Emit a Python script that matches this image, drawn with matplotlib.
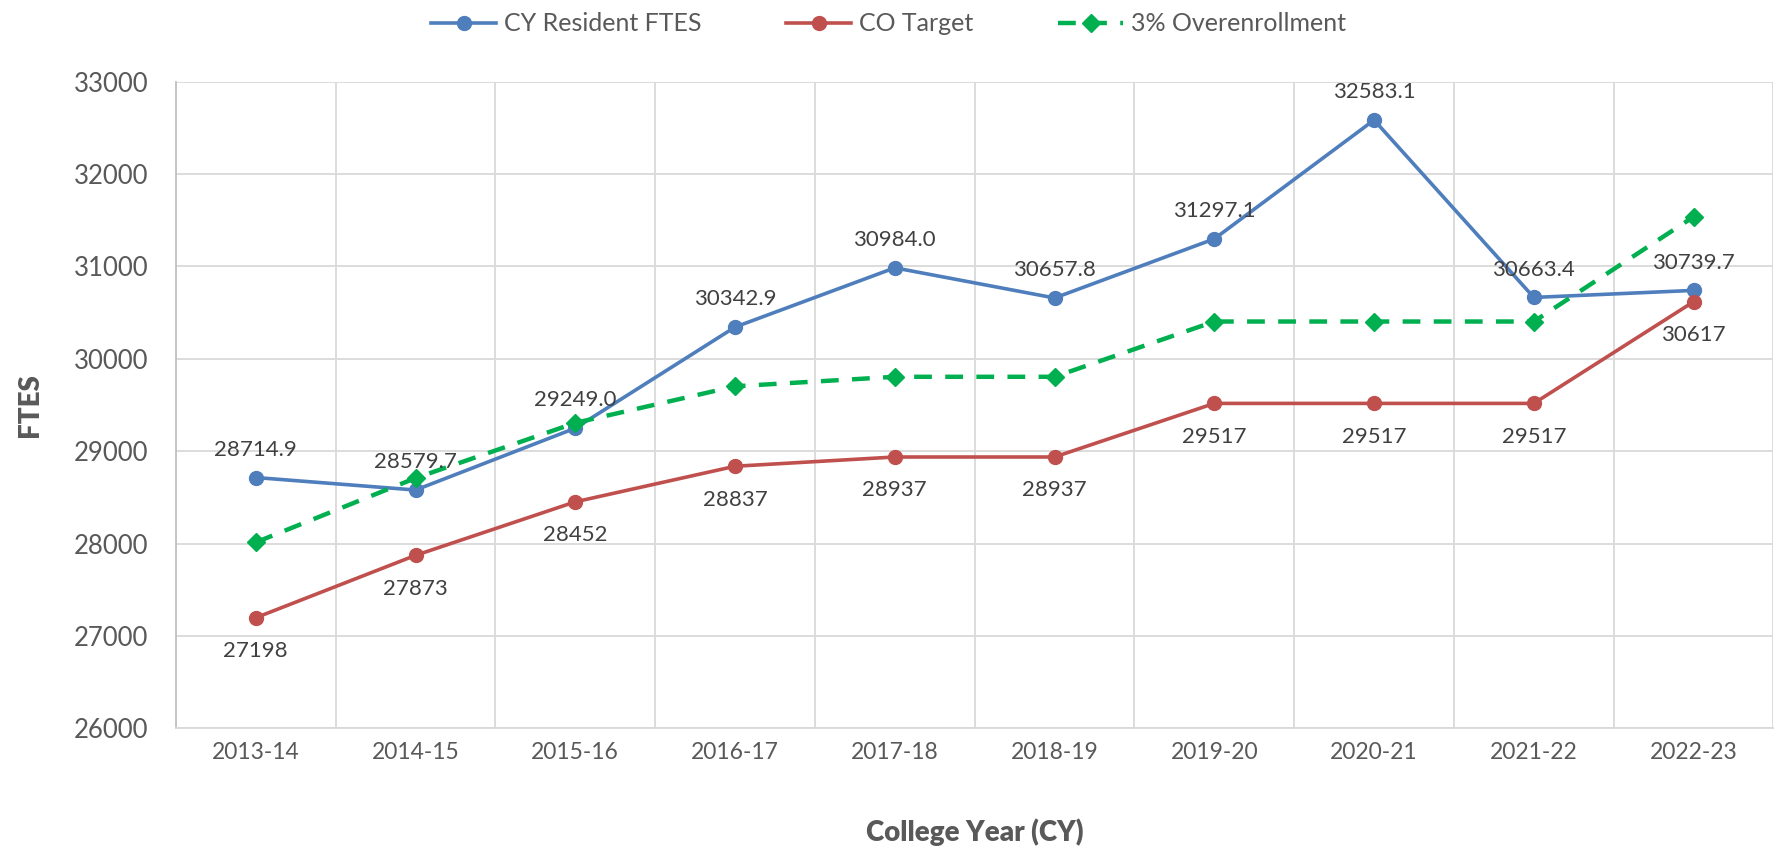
import matplotlib
matplotlib.use("Agg")
import matplotlib.pyplot as plt

plt.rcParams['font.family'] = ['Lato', 'DejaVu Sans']

# donnees
annees = ["2013-14", "2014-15", "2015-16", "2016-17", "2017-18",
          "2018-19", "2019-20", "2020-21", "2021-22", "2022-23"]
resident_ftes = [28714.9, 28579.7, 29249.0, 30342.9, 30984.0,
                 30657.8, 31297.1, 32583.1, 30663.4, 30739.7]
co_target = [27198, 27873, 28452, 28837, 28937,
             28937, 29517, 29517, 29517, 30617]
surinscription = [28014, 28709, 29306, 29702, 29805,
                  29805, 30403, 30403, 30403, 31536]

bleu = "#4F7EBC"
rouge = "#C0504D"
vert = "#00B050"
gris_txt = "#595959"
gris_lbl = "#404040"

fig = plt.figure(figsize=(17.77, 8.49), dpi=100)
ax = fig.add_axes([0.099, 0.142, 0.899, 0.762])

x = list(range(len(annees)))
ax.plot(x, resident_ftes, color=bleu, lw=2.6, marker="o", ms=10,
        label="CY Resident FTES", zorder=3)
ax.plot(x, co_target, color=rouge, lw=2.6, marker="o", ms=10,
        label="CO Target", zorder=3)
ax.plot(x, surinscription, color=vert, lw=3.2, ls=(0, (4, 3)), marker="D", ms=9,
        label="3% Overenrollment", zorder=4)

# etiquettes des valeurs
for i in x:
    ax.annotate("%.1f" % resident_ftes[i], (i, resident_ftes[i]), xytext=(0, 20),
                textcoords="offset points", ha="center", va="center",
                fontsize=16, color=gris_lbl, zorder=5)
    ax.annotate("%d" % co_target[i], (i, co_target[i]), xytext=(0, -24),
                textcoords="offset points", ha="center", va="center",
                fontsize=16, color=gris_lbl, zorder=5)

ax.set_xlim(-0.5, len(annees) - 0.5)
ax.set_ylim(26000, 33000)
ax.set_yticks(range(26000, 33001, 1000))
ax.set_xticks(x)
ax.set_xticklabels(annees)
ax.tick_params(axis="both", length=0, colors=gris_txt)
ax.tick_params(axis="y", labelsize=18.5, pad=20)
ax.tick_params(axis="x", labelsize=16.5, pad=10)

# grille verticale entre les categories
for b in range(len(annees)):
    ax.axvline(b + 0.5, color="#D9D9D9", lw=1.3, zorder=1)
ax.yaxis.grid(True, color="#D9D9D9", lw=1.3, zorder=1)
ax.set_axisbelow(True)
for s in ["top", "right"]:
    ax.spines[s].set_visible(False)
ax.spines["left"].set_color("#BFBFBF")
ax.spines["bottom"].set_color("#D9D9D9")
ax.spines["left"].set_linewidth(1.3)
ax.spines["bottom"].set_linewidth(1.3)

ax.set_xlabel("College Year (CY)", fontsize=20, fontweight="heavy", color=gris_txt, labelpad=40)
ax.set_ylabel("FTES", fontsize=20, fontweight="heavy", color=gris_txt, labelpad=22)

leg = fig.legend(loc="upper center", bbox_to_anchor=(0.5, 1.012), ncol=3, frameon=False,
                 fontsize=18, handlelength=2.6, handletextpad=0.3, columnspacing=3.4,
                 labelcolor=gris_txt)

fig.savefig("out.png", dpi=100)
